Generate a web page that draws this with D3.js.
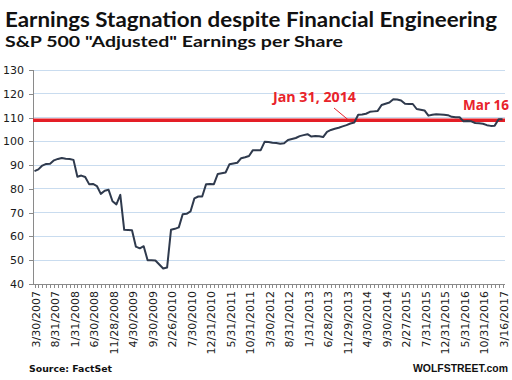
<!DOCTYPE html>
<html>
<head>
<meta charset="utf-8">
<script src="https://cdn.jsdelivr.net/npm/d3@7"></script>
<style>
  html, body { margin: 0; padding: 0; background: #fff; }
  svg { display: block; }
</style>
</head>
<body>
<svg id="chart" width="512" height="380"></svg>
<script>
// ---- Data ----
const title = "Earnings Stagnation despite Financial Engineering";
const subtitle = 'S&P 500 "Adjusted" Earnings per Share';
const source = "Source: FactSet";
const brand = "WOLFSTREET.com";

// Monthly "adjusted" EPS, 3/30/2007 .. 3/16/2017 (121 points)
const eps = [
  87.5, 88.2, 89.8, 90.5, 90.6, 92.0, 92.6, 93.0, 92.7, 92.6,
  92.2, 85.1, 85.6, 85.0, 82.0, 82.1, 81.2, 77.9, 79.2, 79.6,
  74.8, 73.5, 77.5, 62.8, 62.7, 62.6, 55.7, 55.0, 55.9, 50.0,
  50.0, 49.9, 48.2, 46.5, 46.9, 62.8, 63.2, 63.8, 69.3, 69.5,
  70.5, 76.0, 76.8, 76.8, 82.0, 82.1, 82.0, 86.3, 86.6, 86.9,
  90.4, 90.7, 91.0, 92.9, 93.3, 93.8, 96.3, 96.3, 96.3, 99.8,
  99.7, 99.4, 99.3, 99.0, 99.2, 100.6, 101.0, 101.4, 102.2, 102.6,
  103.0, 102.0, 102.2, 102.1, 101.8, 104.0, 104.8, 105.3, 105.7, 106.3,
  106.8, 107.5, 107.9, 111.2, 111.3, 111.6, 112.4, 112.6, 112.8, 115.3,
  115.8, 116.3, 117.7, 117.6, 117.2, 115.8, 115.7, 115.7, 113.6, 113.3,
  113.0, 110.8, 111.2, 111.4, 111.3, 111.2, 111.0, 110.3, 110.1, 110.1,
  108.4, 108.6, 108.4, 107.7, 107.6, 107.4, 106.8, 106.5, 106.6, 109.3,
  109.3
];

// Tick labels, one every 5 months
const tickLabels = [
  "3/30/2007", "8/31/2007", "1/31/2008", "6/30/2008", "11/28/2008",
  "4/30/2009", "9/30/2009", "2/26/2010", "7/30/2010", "12/31/2010",
  "5/31/2011", "10/31/2011", "3/30/2012", "8/31/2012", "1/31/2013",
  "6/28/2013", "11/29/2013", "4/30/2014", "9/30/2014", "2/27/2015",
  "7/31/2015", "12/31/2015", "5/31/2016", "10/31/2016", "3/16/2017"
];
const labelStep = 5;
const yTicks = [40, 50, 60, 70, 80, 90, 100, 110, 120, 130];

// Reference level: EPS on Jan 31, 2014
const refLevel = 108.9;
const refLabel = "Jan 31, 2014";
const endLabel = "Mar 16";
const refIndex = 82; // Jan 31, 2014

// ---- Drawing ----
const svg = d3.select("#chart");
const plot = { left: 33, right: 505, top: 70, bottom: 284 };

const x = d3.scaleLinear().domain([0, eps.length - 1]).range([34.5, 502.5]);
const y = d3.scaleLinear().domain([40, 130]).range([plot.bottom, plot.top]);

const axisColor = "#8a8a8a";
const gridColor = "#c9dcef";
const textColor = "#1a1a1a";

// Gridlines
svg.append("g").selectAll("line").data(yTicks.filter(d => d !== 40)).join("line")
  .attr("x1", plot.left).attr("x2", plot.right)
  .attr("y1", d => y(d)).attr("y2", d => y(d))
  .attr("stroke", gridColor).attr("stroke-width", 1)
  .attr("shape-rendering", "crispEdges");

// Y axis
const yAxis = d3.axisLeft(y).tickValues(yTicks).tickSize(4).tickPadding(5).tickFormat(d3.format("d"));
const gy = svg.append("g").attr("transform", `translate(${plot.left},0)`).call(yAxis);
gy.select(".domain").attr("stroke", axisColor).attr("shape-rendering", "crispEdges");
gy.selectAll(".tick line").attr("stroke", axisColor).attr("shape-rendering", "crispEdges");
gy.selectAll(".tick text")
  .attr("fill", textColor)
  .style("font-family", "'DejaVu Sans', Verdana, sans-serif")
  .style("font-size", "11px");

// X axis: line + monthly minor ticks
svg.append("line")
  .attr("x1", plot.left).attr("x2", plot.right)
  .attr("y1", plot.bottom).attr("y2", plot.bottom)
  .attr("stroke", axisColor).attr("shape-rendering", "crispEdges");

svg.append("g").selectAll("line").data(d3.range(eps.length)).join("line")
  .attr("x1", d => Math.round(x(d)) + 0.5).attr("x2", d => Math.round(x(d)) + 0.5)
  .attr("y1", plot.bottom).attr("y2", plot.bottom + 4)
  .attr("stroke", axisColor).attr("stroke-width", 1);

// X tick labels (rotated)
svg.append("g").selectAll("text").data(tickLabels).join("text")
  .attr("transform", (d, i) => `translate(${x(i * labelStep) + 1.5},${plot.bottom + 7}) rotate(-90)`)
  .attr("text-anchor", "end")
  .attr("dy", "0.35em")
  .attr("fill", textColor)
  .style("font-family", "'DejaVu Sans', Verdana, sans-serif")
  .style("font-size", "11px")
  .text(d => d);

// Reference red line
svg.append("line")
  .attr("x1", plot.left).attr("x2", plot.right)
  .attr("y1", y(refLevel)).attr("y2", y(refLevel))
  .attr("stroke", "#e41e26").attr("stroke-width", 3.5);

// EPS line
const line = d3.line().x((d, i) => x(i)).y(d => y(d));
svg.append("path")
  .datum(eps)
  .attr("fill", "none")
  .attr("stroke", "#2f3a4d")
  .attr("stroke-width", 2)
  .attr("stroke-linejoin", "round")
  .attr("d", line);

// Annotations
const red = "#e8232b";
svg.append("line")
  .attr("x1", 334).attr("y1", 108)
  .attr("x2", x(refIndex) - 4).attr("y2", y(eps[refIndex]) - 1)
  .attr("stroke", red).attr("stroke-width", 1);

function fitText(sel, width) {
  const node = sel.node();
  const fs = parseFloat(sel.style("font-size"));
  const w = node.getComputedTextLength();
  sel.style("font-size", (fs * width / w).toFixed(2) + "px");
}

const annoFont = "'Open Sans', 'DejaVu Sans', sans-serif";
const t1 = svg.append("text").attr("x", 273).attr("y", 101.5)
  .attr("fill", red).style("font-family", annoFont).style("font-weight", "bold")
  .style("font-size", "14px").text(refLabel);
fitText(t1, 83);
const t2 = svg.append("text").attr("x", 463).attr("y", 109.5)
  .attr("fill", red).style("font-family", annoFont).style("font-weight", "bold")
  .style("font-size", "14px").text(endLabel);
fitText(t2, 46);

// Titles
const titleFont = "Lato, 'Open Sans', sans-serif";
svg.append("text").attr("x", 5).attr("y", 26.5)
  .attr("fill", "#111").style("font-family", titleFont).style("font-weight", "bold")
  .style("font-size", "20px")
  .attr("textLength", 492).attr("lengthAdjust", "spacingAndGlyphs")
  .text(title);
svg.append("text").attr("x", 5).attr("y", 46.5)
  .attr("fill", "#111").style("font-family", titleFont).style("font-weight", "bold")
  .style("font-size", "15.5px")
  .attr("textLength", 338).attr("lengthAdjust", "spacingAndGlyphs")
  .text(subtitle);

// Footer
const src = svg.append("text").attr("x", 29).attr("y", 372)
  .attr("fill", "#111").style("font-family", "'DejaVu Sans', Verdana, sans-serif").style("font-weight", "bold")
  .style("font-size", "11px").text(source);
fitText(src, 83);
const br = svg.append("text").attr("x", 413).attr("y", 372)
  .attr("fill", "#111").style("font-family", "'Liberation Sans', Arial, sans-serif").style("font-weight", "bold")
  .style("font-size", "12px").text(brand);
fitText(br, 95);
</script>
</body>
</html>
